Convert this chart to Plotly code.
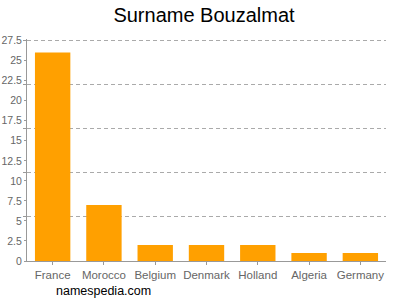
import plotly.graph_objects as go

countries = ["France", "Morocco", "Belgium", "Denmark", "Holland", "Algeria", "Germany"]
counts = [26, 7, 2, 2, 2, 1, 1]
y_ticks = [0, 2.5, 5, 7.5, 10, 12.5, 15, 17.5, 20, 22.5, 25, 27.5]
y_tick_text = ["0", "2.5", "5", "7.5", "10", "12.5", "15", "17.5", "20", "22.5", "25", "27.5"]
grid_vals = [5.5, 11, 16.5, 22, 27.5]
y_max = 27.7

fig = go.Figure()
fig.add_trace(go.Bar(x=countries, y=counts, marker=dict(color="#ffa000", line=dict(width=0)),
                     hoverinfo="skip"))
fig.add_trace(go.Scatter(x=[], y=[], yaxis="y2", showlegend=False))

fig.update_layout(
    width=400, height=300,
    margin=dict(l=27, r=14, t=39, b=39, autoexpand=False),
    paper_bgcolor="white", plot_bgcolor="white",
    showlegend=False,
    bargap=0.31,
    font=dict(family="Liberation Sans, Arial, sans-serif", size=11, color="#666"),
    title=dict(text="Surname Bouzalmat", x=0.51, xanchor="center", y=0.95, yanchor="middle",
               font=dict(size=20, color="#000")),
    xaxis=dict(showline=True, linecolor="#999", linewidth=1, ticks="outside", ticklen=3,
               tickcolor="#999", showgrid=False, automargin=False,
               tickfont=dict(size=11.5, color="#666")),
    yaxis=dict(range=[0, y_max], tickvals=y_ticks, ticktext=y_tick_text, showgrid=False,
               showline=True, linecolor="#999", linewidth=1, ticks="outside", ticklen=2,
               tickcolor="#999", tickfont=dict(size=10.5, color="#666"), zeroline=False,
               automargin=False, fixedrange=True),
    yaxis2=dict(range=[0, y_max], tickvals=grid_vals, overlaying="y", side="left",
                showgrid=True, gridcolor="#aaa", griddash="4px,3px", gridwidth=1,
                showticklabels=False, ticks="outside", ticklen=3, tickcolor="#999",
                zeroline=False, showline=False, automargin=False),
    annotations=[dict(text="namespedia.com", xref="paper", yref="paper", x=0.214, y=-0.136,
                      xanchor="center", yanchor="middle", showarrow=False,
                      font=dict(size=12.5, color="#000"))],
)

fig.write_html("out.html")
